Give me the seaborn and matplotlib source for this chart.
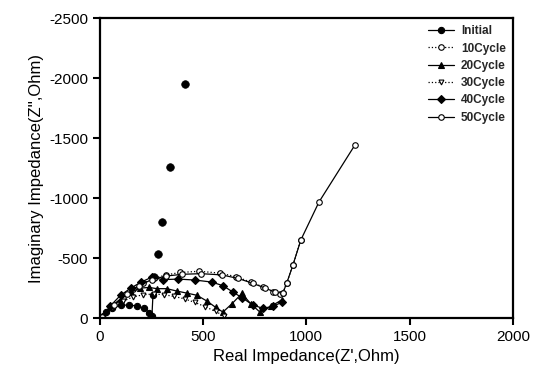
import pandas as pd
from matplotlib import pyplot as plt
import seaborn as sns

# Nyquist data (Z' real, Z'' imaginary, Ohm)
initial_x = [5, 30, 60, 100, 140, 180, 215, 240, 252, 257]
initial_y = [0, -50, -85, -105, -110, -100, -80, -45, -15, -190]
# low-frequency points of the initial cell, drawn without a line
initial_tail_x = [262, 280, 300, 340, 410]
initial_tail_y = [-340, -530, -800, -1260, -1950]

c10_x = [10, 60, 110, 160, 210, 260, 320, 390, 480, 580, 660, 730, 790, 840, 870, 886, 905, 935, 973]
c10_y = [-10, -90, -170, -240, -290, -330, -360, -380, -390, -375, -345, -300, -260, -220, -200, -208, -292, -442, -650]

c20_x = [10, 50, 100, 150, 195, 240, 276, 324, 373, 421, 470, 520, 560, 596, 640, 688, 730, 775, 830, 880]
c20_y = [-10, -90, -160, -215, -250, -255, -245, -245, -225, -208, -190, -140, -90, -50, -120, -205, -120, -50, -100, -150]

c30_x = [10, 60, 110, 160, 210, 260, 310, 360, 410, 460, 510, 560, 600]
c30_y = [-10, -80, -140, -175, -195, -200, -195, -180, -160, -130, -95, -55, -20]

c40_x = [10, 50, 100, 150, 200, 250, 305, 378, 460, 542, 596, 644, 688, 740, 790, 840, 880]
c40_y = [-10, -100, -190, -250, -300, -340, -320, -325, -317, -300, -270, -217, -170, -110, -80, -100, -130]

c50_x = [10, 70, 130, 190, 250, 320, 400, 490, 590, 670, 740, 800, 850, 886, 905, 935, 973, 1061, 1235]
c50_y = [-10, -110, -200, -270, -320, -350, -365, -370, -360, -330, -290, -250, -215, -208, -292, -442, -650, -967, -1442]

series = [
    ('Initial', initial_x, initial_y, 'o', '-', 'black', 4.5),
    ('10Cycle', c10_x, c10_y, 'o', ':', 'white', 4),
    ('20Cycle', c20_x, c20_y, '^', '-', 'black', 4.5),
    ('30Cycle', c30_x, c30_y, 'v', ':', 'white', 3.5),
    ('40Cycle', c40_x, c40_y, 'D', '-', 'black', 4),
    ('50Cycle', c50_x, c50_y, 'o', '-', 'white', 4),
]

sns.set_theme(style="ticks")
plt.rcParams['font.family'] = ['Liberation Sans', 'DejaVu Sans']
plt.rcParams['axes.unicode_minus'] = False

fig, ax = plt.subplots(figsize=(5.37, 3.86), dpi=100)
fig.subplots_adjust(left=0.186, right=0.955, bottom=0.176, top=0.953)

for name, xs, ys, mk, ls, fc, ms in series:
    df = pd.DataFrame({'x': xs, 'y': ys})
    sns.lineplot(data=df, x='x', y='y', sort=False, ax=ax, color='black',
                 marker=mk, linestyle=ls, linewidth=0.9, markersize=ms,
                 markerfacecolor=fc, markeredgecolor='black',
                 markeredgewidth=0.8, label=name)

tail = pd.DataFrame({'x': initial_tail_x, 'y': initial_tail_y})
sns.scatterplot(data=tail, x='x', y='y', ax=ax, color='black', s=30,
                edgecolor='black', linewidth=0.5, legend=False)

ax.set_xlim(0, 2000)
ax.set_ylim(0, -2500)
ax.set_xticks([0, 500, 1000, 1500, 2000])
ax.set_yticks([0, -500, -1000, -1500, -2000, -2500])
ax.set_xlabel("Real Impedance(Z',Ohm)", fontsize=12, color='black')
ax.set_ylabel("Imaginary Impedance(Z'',Ohm)", fontsize=12, color='black')
ax.tick_params(axis='both', labelsize=11, colors='black', direction='out',
               length=5, width=1.5, top=False, right=False)
for sp in ax.spines.values():
    sp.set_visible(True)
    sp.set_linewidth(1.6)
    sp.set_color('black')

leg = ax.legend(loc='upper right', frameon=False, fontsize=8.5,
                handlelength=2.2, labelspacing=0.45, borderaxespad=0.2,
                handletextpad=0.6)
for t in leg.get_texts():
    t.set_fontweight('bold')

plt.savefig('out.png', dpi=100)
